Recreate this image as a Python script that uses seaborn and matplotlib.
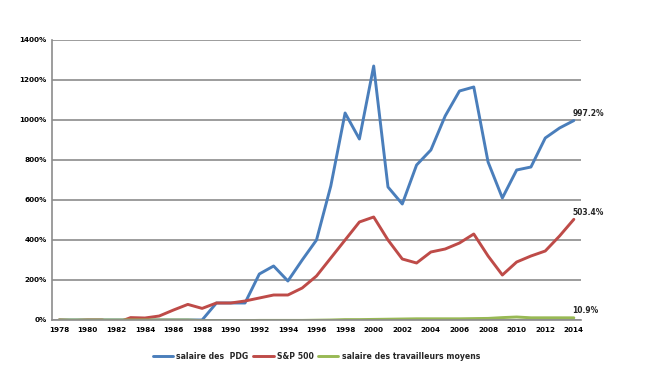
import pandas as pd
import matplotlib
matplotlib.use('Agg')
import matplotlib.pyplot as plt
import seaborn as sns
from matplotlib.ticker import FuncFormatter

years = list(range(1978, 2015))

pdg = [0, 0, 0, 0, 0, 0, 0, 0, 0, 0, 0, 85, 85, 85, 230, 270, 195, 300, 400,
       670, 1035, 905, 1270, 665, 580, 775, 850, 1020, 1145, 1165, 790, 610,
       750, 765, 910, 960, 997.2]
sp500 = [0, -3, 0, 0, -15, 12, 10, 20, 50, 78, 58, 85, 85, 95, 110, 125, 125,
         160, 220, 310, 400, 490, 515, 400, 305, 285, 340, 355, 385, 430, 320,
         225, 290, 320, 345, 420, 503.4]
workers = [0, 0, 0, 0, 0, 0, 0, 0, 0, 0, -3, -3, -4, -3, -2, -2, -2, -2, -1,
           0, 2, 2, 3, 4, 5, 6, 6, 6, 6, 7, 8, 12, 15, 11, 11, 11, 10.9]

series_names = ['salaire des  PDG', 'S&P 500', 'salaire des travailleurs moyens']
colors = ['#4A7EBB', '#BE4B48', '#98B954']
end_labels = ['997.2%', '503.4%', '10.9%']

df = pd.DataFrame({'year': years * 3,
                   'value': pdg + sp500 + workers,
                   'serie': [series_names[0]] * len(years)
                   + [series_names[1]] * len(years)
                   + [series_names[2]] * len(years)})

sns.set_style('white')
fig = plt.figure(figsize=(6.61, 3.82), dpi=100)
ax = fig.add_axes([52 / 661, 1 - 320 / 382, 529 / 661, 280 / 382])

sns.lineplot(data=df, x='year', y='value', hue='serie', palette=colors,
             linewidth=2.1, ax=ax, legend=True)

ax.set_xlim(1977.65, 2014.35)
ax.set_ylim(0, 1400)
ax.set_yticks(range(0, 1401, 200))
ax.yaxis.set_major_formatter(FuncFormatter(lambda v, p: f'{int(v)}%'))
ax.set_xticks(range(1978, 2015, 2))
ax.set_xticks([y + 0.5 for y in range(1977, 2015)], minor=True)
ax.set_xlabel('')
ax.set_ylabel('')
ax.grid(axis='y', color='#8c8c8c', linewidth=1.2)
ax.set_axisbelow(True)

for side in ['top', 'right']:
    ax.spines[side].set_visible(False)
for side in ['left', 'bottom']:
    ax.spines[side].set_color('#8c8c8c')
    ax.spines[side].set_linewidth(1.2)

ax.tick_params(axis='both', labelsize=5.2, colors='#8c8c8c', labelcolor='black')
ax.tick_params(axis='x', which='major', length=0, pad=5)
ax.tick_params(axis='x', which='minor', length=3, direction='out', color='#8c8c8c')
ax.tick_params(axis='y', length=0, pad=4)
for lbl in ax.get_xticklabels() + ax.get_yticklabels():
    lbl.set_fontweight('bold')

last_vals = [pdg[-1], sp500[-1], workers[-1]]
for val, txt in zip(last_vals, end_labels):
    ax.annotate(txt, (years[-1], val), xytext=(-1, 2), textcoords='offset points',
                fontsize=5.5, fontweight='bold', ha='left', va='bottom')

ax.legend(loc='center', bbox_to_anchor=(0.5, -0.13), ncol=3, frameon=False,
          handlelength=2.6, columnspacing=0.6, handletextpad=0.4,
          prop={'weight': 'bold', 'size': 5.6})

fig.savefig('out.png', dpi=100)
